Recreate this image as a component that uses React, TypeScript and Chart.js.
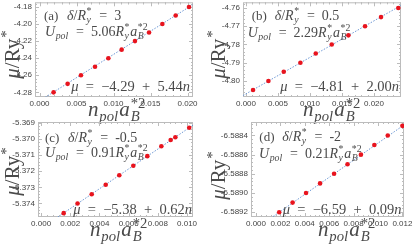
import React, { useEffect, useRef } from "react";
import { Chart, registerables } from "chart.js";
Chart.register(...registerables);

const W = 416;
const H = 246;

// ---------- data ----------
const nA = [0.0019, 0.0038, 0.0056, 0.0075, 0.0093, 0.0111, 0.0129, 0.0148, 0.0166, 0.0184, 0.0202];
const muA = [-4.28, -4.27, -4.26, -4.25, -4.24, -4.23, -4.22, -4.21, -4.2, -4.19, -4.18];
const nB = [0.0011, 0.0035, 0.0059, 0.0085, 0.0109, 0.0134, 0.016, 0.0186, 0.0211, 0.0238];
const muB = [-4.805, -4.8, -4.795, -4.79, -4.785, -4.78, -4.775, -4.77, -4.765, -4.76];
const nC = [0.00155, 0.0025, 0.00347, 0.00443, 0.00536, 0.00632, 0.00728, 0.00824, 0.00888, 0.0092, 0.01015];
const muC = [-5.3746, -5.374, -5.37343, -5.37284, -5.37225, -5.37166, -5.37106, -5.37045, -5.37006, -5.36989, -5.3693];
const nD = [0.0019, 0.003, 0.0041, 0.00525, 0.0064, 0.0075, 0.0086, 0.0097, 0.0108, 0.012];
const muD = [-6.5892, -6.5891, -6.589, -6.5889, -6.5888, -6.5887, -6.5886, -6.5885, -6.5884, -6.5883];

const xTicksA = [0, 0.005, 0.01, 0.015, 0.02];
const yTicksA = [-4.28, -4.26, -4.24, -4.22, -4.2, -4.18];
const xTicksB = [0, 0.005, 0.01, 0.015, 0.02];
const yTicksB = [-4.8, -4.79, -4.78, -4.77, -4.76];
const xTicksC = [0, 0.002, 0.004, 0.006, 0.008, 0.01];
const yTicksC = [-5.374, -5.373, -5.372, -5.371, -5.37, -5.369];
const xTicksD = [0, 0.002, 0.004, 0.006, 0.008, 0.01, 0.012];
const yTicksD = [-6.5892, -6.589, -6.5888, -6.5886, -6.5884];

const xRanges = [[-0.00061, 0.02074], [-0.00047, 0.02422], [-0.00021, 0.01041], [-0.00041, 0.01213]];
const yRanges = [[-4.28542, -4.17458], [-4.8088, -4.7569], [-5.37484, -5.36894], [-6.58925, -6.58826]];

// dotted fit line (intercept, slope) as drawn
const fitIntercepts = [-4.29, -4.80706, -5.37555, -6.58937];
const fitSlopes = [5.44, 2.0, 0.616, 0.089];

// annotation texts
const panelLabels = ["(a)", "(b)", "(c)", "(d)"];
const deltaTexts = ["3", "0.5", "-0.5", "-2"];
const uPolTexts = ["5.06", "2.29", "0.91", "0.21"];
const fitInterceptTexts = ["\u22124.29", "\u22124.81", "\u22125.38", "\u22126.59"];
const fitSlopeTexts = ["5.44", "2.00", "0.62", "0.09"];

const panelN = [nA, nB, nC, nD];
const panelMu = [muA, muB, muC, muD];
const panelXTicks = [xTicksA, xTicksB, xTicksC, xTicksD];
const panelYTicks = [yTicksA, yTicksB, yTicksC, yTicksD];

// ---------- layout ----------
const layouts = [
  { frame: { l: 35, r: 193, t: 1, b: 97 }, yDec: 2, yTitle: { x: 19, y: 54 }, xTitle: { x: 88, y: 116 }, l1: { x: 44, y: 19.5 }, l2: { x: 45, y: 36 }, l3: { x: 190, y: 91 } },
  { frame: { l: 243, r: 401, t: 1, b: 97 }, yDec: 2, yTitle: { x: 225, y: 54 }, xTitle: { x: 303, y: 116 }, l1: { x: 251.7, y: 19.5 }, l2: { x: 247.7, y: 36.5 }, l3: { x: 399, y: 91 } },
  { frame: { l: 38, r: 193, t: 122, b: 217 }, yDec: 3, yTitle: { x: 19, y: 171 }, xTitle: { x: 90, y: 236 }, l1: { x: 45, y: 141.5 }, l2: { x: 45, y: 156.5 }, l3: { x: 192, y: 214 } },
  { frame: { l: 251, r: 404, t: 122, b: 217 }, yDec: 4, yTitle: { x: 225, y: 175 }, xTitle: { x: 318, y: 236 }, l1: { x: 259.3, y: 140.5 }, l2: { x: 259, y: 158 }, l3: { x: 401.5, y: 213.5 } },
];

const SERIF = "'Liberation Serif', 'Times New Roman', serif";
const TICKFONT = "'Liberation Sans Narrow', 'Arial Narrow', 'Liberation Sans', sans-serif";
const TEXT_COLOR = "#4a4a4a";
const FRAME_COLOR = "#bcbcbc";
const SP = "\u2002"; // wide operator spacing

type Tok = { t: string; i?: boolean; sup?: string; sub?: string };

function setFont(ctx: CanvasRenderingContext2D, size: number, italic: boolean) {
  ctx.font = `${italic ? "italic " : ""}${size}px ${SERIF}`;
}

function renderRich(ctx: CanvasRenderingContext2D, toks: Tok[], x: number, y: number, size: number, draw = true) {
  let cx = x;
  for (const tk of toks) {
    setFont(ctx, size, !!tk.i);
    if (draw) ctx.fillText(tk.t, cx, y);
    cx += ctx.measureText(tk.t).width;
    if (tk.sup || tk.sub) {
      const ss = size * 0.7;
      let w = 0;
      cx += size * 0.04;
      if (tk.sup) {
        setFont(ctx, ss, false);
        if (draw) ctx.fillText(tk.sup, cx, y - size * 0.4);
        w = Math.max(w, ctx.measureText(tk.sup).width);
      }
      if (tk.sub) {
        setFont(ctx, ss, true);
        if (draw) ctx.fillText(tk.sub, cx, y + size * 0.24);
        w = Math.max(w, ctx.measureText(tk.sub).width);
      }
      cx += w + size * 0.06;
    }
  }
  return cx - x;
}

function drawFrame(chart: any, idx: number) {
  const ctx: CanvasRenderingContext2D = chart.ctx;
  const { left, right, top, bottom } = chart.chartArea;
  const xs = chart.scales.x;
  const ys = chart.scales.y;
  ctx.save();
  ctx.strokeStyle = FRAME_COLOR;
  ctx.lineWidth = 1;
  ctx.strokeRect(left + 0.5, top + 0.5, right - left - 1, bottom - top - 1);
  ctx.beginPath();
  const xt = panelXTicks[idx];
  const yt = panelYTicks[idx];
  const drawX = (v: number, len: number) => {
    const px = Math.round(xs.getPixelForValue(v)) + 0.5;
    if (px < left || px > right) return;
    ctx.moveTo(px, bottom);
    ctx.lineTo(px, bottom - len);
    ctx.moveTo(px, top);
    ctx.lineTo(px, top + len);
  };
  const drawY = (v: number, len: number) => {
    const py = Math.round(ys.getPixelForValue(v)) + 0.5;
    if (py < top || py > bottom) return;
    ctx.moveTo(left, py);
    ctx.lineTo(left + len, py);
    ctx.moveTo(right, py);
    ctx.lineTo(right - len, py);
  };
  for (let k = 0; k < xt.length; k++) {
    drawX(xt[k], 4);
    const step = xt[1] - xt[0];
    for (let m = -5; m < 5; m++) {
      if (m === 0) continue;
      drawX(xt[k] + (step * m) / 5, 2);
    }
  }
  for (let k = 0; k < yt.length; k++) {
    drawY(yt[k], 4);
    const step = yt[1] - yt[0];
    for (let m = 1; m < 5; m++) drawY(yt[k] + (step * m) / 5, 2);
    if (k === 0) for (let m = 1; m < 5; m++) drawY(yt[k] - (step * m) / 5, 2);
  }
  ctx.stroke();
  ctx.restore();
}

function drawTexts(chart: any, idx: number) {
  const ctx: CanvasRenderingContext2D = chart.ctx;
  const L = layouts[idx];
  ctx.save();
  ctx.textBaseline = "alphabetic";
  ctx.textAlign = "left";
  ctx.fillStyle = TEXT_COLOR;

  // y axis title (rotated)
  const yTok: Tok[] = [{ t: "\u03bc", i: true }, { t: "/Ry", sup: "*" }];
  const ySize = 21;
  const yw = renderRich(ctx, yTok, 0, 0, ySize, false);
  ctx.save();
  ctx.translate(L.yTitle.x, L.yTitle.y);
  ctx.rotate(-Math.PI / 2);
  renderRich(ctx, yTok, -yw / 2, 0, ySize);
  ctx.restore();

  // x axis title
  const xTok: Tok[] = [{ t: "n", i: true, sub: "pol" }, { t: "a", i: true, sup: "*2", sub: "B" }];
  renderRich(ctx, xTok, L.xTitle.x, L.xTitle.y, 21);

  // line 1
  setFont(ctx, 13, false);
  ctx.fillText(panelLabels[idx], L.l1.x, L.l1.y);
  const l1Tok: Tok[] = [{ t: "\u03b4", i: true }, { t: "/" }, { t: "R", i: true, sup: "*", sub: "y" }, { t: SP + "=" + SP + deltaTexts[idx] }];
  renderRich(ctx, l1Tok, L.l1.x + 23, L.l1.y, 14);

  // line 2
  const l2Tok: Tok[] = [
    { t: "U", i: true, sub: "pol" },
    { t: SP + "=" + SP + uPolTexts[idx] },
    { t: "R", i: true, sup: "*", sub: "y" },
    { t: "a", i: true, sup: "*2", sub: "B" },
  ];
  renderRich(ctx, l2Tok, L.l2.x, L.l2.y, 14);

  // line 3 (right aligned)
  const l3Tok: Tok[] = [
    { t: "\u03bc", i: true },
    { t: SP + "=" + SP + fitInterceptTexts[idx] + SP + "+" + SP + fitSlopeTexts[idx] },
    { t: "n", i: true },
  ];
  const w3 = renderRich(ctx, l3Tok, 0, 0, 14.5, false);
  renderRich(ctx, l3Tok, L.l3.x - w3, L.l3.y, 14.5);
  ctx.restore();
}

function Panel({ idx }: { idx: number }) {
  const ref = useRef<HTMLCanvasElement>(null);
  useEffect(() => {
    const L = layouts[idx];
    const xr = xRanges[idx];
    const yr = yRanges[idx];
    const b = fitIntercepts[idx];
    const m = fitSlopes[idx];
    const pts = panelN[idx].map((n, k) => ({ x: n, y: panelMu[idx][k] }));
    const fit = [
      { x: xr[0], y: b + m * xr[0] },
      { x: xr[1], y: b + m * xr[1] },
    ];
    const xt = panelXTicks[idx];
    const yt = panelYTicks[idx];
    const chart = new Chart(ref.current as HTMLCanvasElement, {
      type: "scatter",
      data: {
        datasets: [
          {
            data: pts,
            backgroundColor: "#e8141e",
            borderWidth: 0,
            pointRadius: 2.3,
            pointHoverRadius: 2.3,
          },
          {
            data: fit,
            showLine: true,
            borderColor: "#6c97d4",
            borderWidth: 1,
            borderDash: [1.5, 1.5],
            pointRadius: 0,
            fill: false,
          },
        ],
      } as any,
      options: {
        animation: false,
        responsive: false,
        devicePixelRatio: 1,
        events: [],
        layout: { padding: { left: 0, top: L.frame.t, right: W - L.frame.r, bottom: 0 } },
        plugins: { legend: { display: false }, tooltip: { enabled: false } },
        scales: {
          x: {
            type: "linear",
            min: xr[0],
            max: xr[1],
            grid: { display: false, drawTicks: false },
            border: { display: false },
            afterBuildTicks: (s: any) => {
              s.ticks = xt.map((v) => ({ value: v }));
            },
            afterFit: (s: any) => {
              s.height = H - L.frame.b;
              s.paddingLeft = 0;
              s.paddingRight = 0;
            },
            ticks: {
              autoSkip: false,
              maxRotation: 0,
              padding: 2,
              color: "#444",
              font: { family: TICKFONT, size: 8 },
              callback: (v: any) => Number(v).toFixed(3),
            },
          },
          y: {
            type: "linear",
            min: yr[0],
            max: yr[1],
            grid: { display: false, drawTicks: false },
            border: { display: false },
            afterBuildTicks: (s: any) => {
              s.ticks = yt.map((v) => ({ value: v }));
            },
            afterFit: (s: any) => {
              s.width = L.frame.l;
              s.paddingTop = 0;
              s.paddingBottom = 0;
            },
            ticks: {
              autoSkip: false,
              padding: 3,
              color: "#444",
              font: { family: TICKFONT, size: 8 },
              callback: (v: any) => Number(v).toFixed(L.yDec),
            },
          },
        },
      } as any,
      plugins: [
        {
          id: "deco" + idx,
          beforeDatasetsDraw: (c: any) => drawFrame(c, idx),
          afterDraw: (c: any) => drawTexts(c, idx),
        },
      ],
    });
    return () => chart.destroy();
  }, [idx]);
  return <canvas ref={ref} width={W} height={H} style={{ position: "absolute", left: 0, top: 0, width: W, height: H }} />;
}

export default function App() {
  return (
    <div style={{ position: "fixed", left: 0, top: 0, width: W, height: H, background: "#fff", overflow: "hidden" }}>
      {[0, 1, 2, 3].map((i) => (
        <Panel key={i} idx={i} />
      ))}
    </div>
  );
}
